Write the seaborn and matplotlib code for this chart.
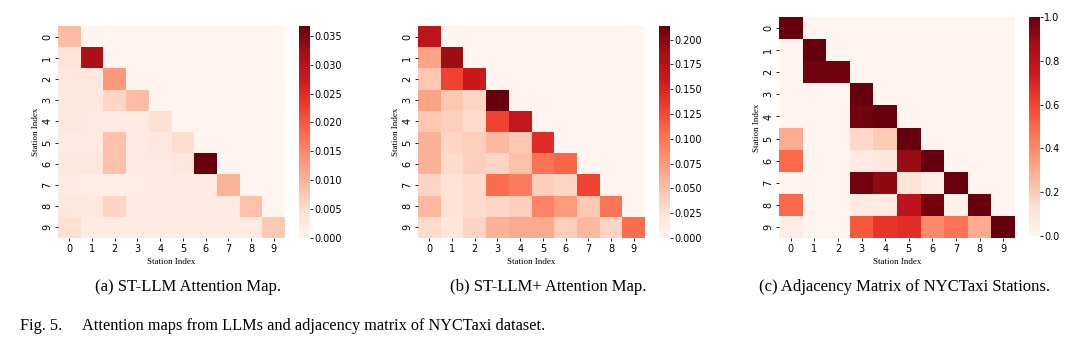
import numpy as np
import pandas as pd
import matplotlib
matplotlib.use("Agg")
import matplotlib.pyplot as plt
import seaborn as sns

stations = list(range(10))

# lower-triangular rows (row i has i+1 values); upper triangle is zero
st_llm_rows = [
    [0.0090],
    [0.0040, 0.0310],
    [0.0030, 0.0030, 0.0130],
    [0.0030, 0.0030, 0.0060, 0.0090],
    [0.0030, 0.0025, 0.0025, 0.0025, 0.0045],
    [0.0025, 0.0025, 0.0085, 0.0025, 0.0030, 0.0050],
    [0.0030, 0.0030, 0.0085, 0.0025, 0.0025, 0.0030, 0.0367],
    [0.0025, 0.0020, 0.0020, 0.0018, 0.0022, 0.0022, 0.0022, 0.0100],
    [0.0030, 0.0030, 0.0060, 0.0022, 0.0025, 0.0022, 0.0022, 0.0025, 0.0085],
    [0.0045, 0.0022, 0.0022, 0.0022, 0.0022, 0.0022, 0.0022, 0.0025, 0.0025, 0.0075],
]

st_llm_plus_rows = [
    [0.170],
    [0.070, 0.190],
    [0.045, 0.130, 0.160],
    [0.070, 0.045, 0.035, 0.2137],
    [0.045, 0.040, 0.030, 0.130, 0.165],
    [0.060, 0.035, 0.040, 0.055, 0.045, 0.145],
    [0.060, 0.030, 0.040, 0.035, 0.050, 0.100, 0.110],
    [0.035, 0.025, 0.030, 0.105, 0.095, 0.040, 0.035, 0.130],
    [0.055, 0.025, 0.030, 0.035, 0.040, 0.090, 0.075, 0.045, 0.100],
    [0.030, 0.020, 0.035, 0.060, 0.065, 0.065, 0.040, 0.055, 0.035, 0.105],
]

adjacency_rows = [
    [1.00],
    [0.00, 1.00],
    [0.00, 0.98, 0.98],
    [0.00, 0.00, 0.00, 1.00],
    [0.00, 0.00, 0.00, 0.98, 1.00],
    [0.30, 0.00, 0.00, 0.15, 0.20, 1.00],
    [0.50, 0.00, 0.00, 0.06, 0.08, 0.90, 1.00],
    [0.00, 0.00, 0.00, 0.97, 0.92, 0.10, 0.05, 1.00],
    [0.50, 0.00, 0.00, 0.06, 0.06, 0.80, 0.97, 0.03, 1.00],
    [0.05, 0.00, 0.00, 0.55, 0.65, 0.67, 0.40, 0.47, 0.30, 1.00],
]

subcaptions = ["(a) ST-LLM Attention Map.",
               "(b) ST-LLM+ Attention Map.",
               "(c) Adjacency Matrix of NYCTaxi Stations."]
fig_caption = "Fig. 5.     Attention maps from LLMs and adjacency matrix of NYCTaxi dataset."


def to_frame(rows):
    m = np.zeros((len(stations), len(stations)))
    for i, r in enumerate(rows):
        m[i, :len(r)] = r
    return pd.DataFrame(m, index=stations, columns=stations)


W, H = 1080, 358
fig = plt.figure(figsize=(W / 100, H / 100), dpi=100)


def rect(l, t, r, b):
    return [l / W, (H - b) / H, (r - l) / W, (b - t) / H]


specs = [
    (to_frame(st_llm_rows), rect(58, 26, 285, 238), rect(299, 26, 310, 238),
     np.arange(0, 0.0351, 0.005), "{:.3f}"),
    (to_frame(st_llm_plus_rows), rect(418, 26, 645, 238), rect(659, 26, 670, 238),
     np.arange(0, 0.2001, 0.025), "{:.3f}"),
    (to_frame(adjacency_rows), rect(779, 17, 1015, 238), rect(1029, 17, 1040, 236),
     np.arange(0, 1.01, 0.2), "{:.1f}"),
]

serif = ["Liberation Serif", "DejaVu Serif"]

for df, axr, cbr, ticks, fmt in specs:
    ax = fig.add_axes(axr)
    cax = fig.add_axes(cbr)
    sns.heatmap(df, ax=ax, cbar_ax=cax, cmap="Reds", vmin=0, vmax=df.values.max(),
                square=False)
    ax.tick_params(labelsize=7, length=2.2, width=0.6, pad=1.8)
    ax.set_yticklabels(ax.get_yticklabels(), rotation=90, va="center")
    ax.set_xticklabels(ax.get_xticklabels(), rotation=0)
    ax.set_xlabel("Station Index", fontsize=6.5, family=serif, labelpad=3)
    ax.set_ylabel("Station Index", fontsize=6.5, family=serif, labelpad=2)
    cax.set_yticks(ticks)
    cax.set_yticklabels([fmt.format(t) for t in ticks])
    cax.tick_params(labelsize=7, length=2.2, width=0.6, pad=1)

centers = [188, 548, 905]
for c, txt in zip(centers, subcaptions):
    fig.text(c / W, 1 - 287 / H, txt, ha="center", va="center", fontsize=12, family=serif)
fig.text(20 / W, 1 - 326 / H, fig_caption, ha="left", va="center", fontsize=11.7, family=serif)

fig.savefig("out.png", dpi=100)
